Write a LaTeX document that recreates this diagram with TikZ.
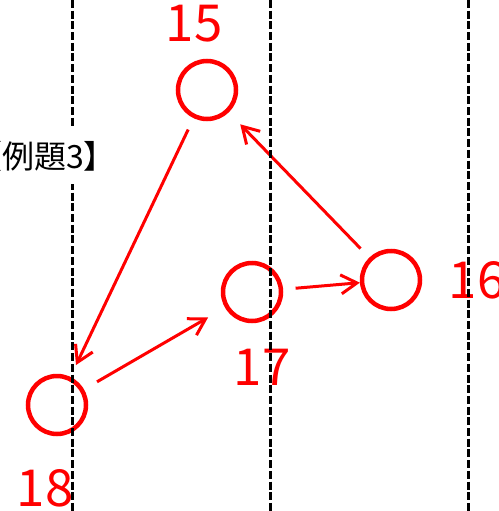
\documentclass[tikz,border=0pt]{standalone}
\usepackage{fontspec}
\setmainfont{Noto Sans CJK JP}
\usetikzlibrary{arrows.meta}

\begin{document}
\begin{tikzpicture}[x=1pt,y=-1pt,
    vtx/.style={draw=red,line width=4.5pt,circle,minimum size=58pt,inner sep=0pt},
    num/.style={text=red,font=\fontsize{51}{51}\selectfont,inner sep=0pt},
    arr/.style={draw=red,line width=3pt,-{Straight Barb[length=16pt,width=19pt,line width=3pt]}},
    guide/.style={line width=3pt,dash pattern=on 8pt off 2.7pt}]
\useasboundingbox (0,0) rectangle (498,511);

\node[vtx] (n15) at (207,90) {};
\node[vtx] (n16) at (391,280) {};
\node[vtx] (n17) at (252,292) {};
\node[vtx] (n18) at (57,405) {};

\node[num] at ([shift={(-13,-66)}] n15) {15};
\node[num] at ([shift={(86,0)}] n16) {16};
\node[num] at ([shift={(10,75)}] n17) {17};
\node[num] at ([shift={(-12,83)}] n18) {18};

\draw[arr, shorten <=12.5pt, shorten >=13pt] (n15) -- (n18);
\draw[arr, shorten <=15pt, shorten >=19.5pt] (n18) -- (n17);
\draw[arr, shorten <=12.5pt, shorten >=0pt] (n17) -- (n16);
\draw[arr, shorten <=12.5pt, shorten >=16.5pt] (n16) -- (n15);

\draw[guide] (72,0) -- (72,511) (270,0) -- (270,511) (468,0) -- (468,511);

\node[fill=white,inner xsep=0pt,inner ysep=13pt,anchor=base west,font=\fontsize{32}{32}\selectfont] (title) at (-30,168) {【例題3】};

\end{tikzpicture}
\end{document}
